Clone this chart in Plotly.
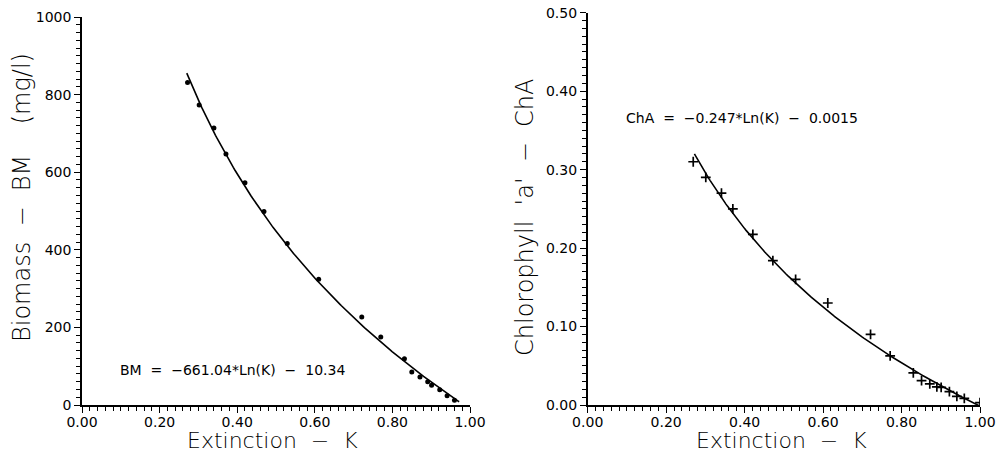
import numpy as np
import plotly.graph_objects as go

# ---- data ----
k_bm = [0.272, 0.302, 0.340, 0.371, 0.420, 0.469, 0.529, 0.610, 0.721, 0.770,
        0.831, 0.850, 0.871, 0.891, 0.901, 0.922, 0.941, 0.960]
bm = [831, 773, 714, 647, 573, 499, 416, 324, 227, 175,
      119, 85, 72, 60, 51, 39, 24, 12]

k_cha = [0.269, 0.301, 0.341, 0.370, 0.421, 0.472, 0.530, 0.612, 0.721, 0.771,
         0.830, 0.851, 0.872, 0.890, 0.901, 0.922, 0.941, 0.960, 1.000]
cha = [0.310, 0.290, 0.270, 0.250, 0.2175, 0.184, 0.160, 0.130, 0.090, 0.0625,
       0.041, 0.031, 0.027, 0.023, 0.0225, 0.017, 0.011, 0.0085, 0.003]

# fitted equations shown on the chart
bm_a, bm_b = -661.04, -10.34
bm_k_range = [0.27, 0.972]
cha_a, cha_b = -0.247, -0.0015
cha_k_range = [0.272, 1.0]

NB = "\u00a0"
bm_eq = "BM" + NB * 2 + "=" + NB * 2 + "\u2212661.04*Ln(K)" + NB * 2 + "\u2212" + NB * 2 + "10.34"
cha_eq = "ChA" + NB * 2 + "=" + NB * 2 + "\u22120.247*Ln(K)" + NB * 2 + "\u2212" + NB * 2 + "0.0015"
x_title = "Extinction" + NB * 2 + "\u2212" + NB * 2 + "K"
y1_title = "Biomass" + NB * 2 + "\u2212" + NB * 2 + "BM" + NB * 4 + "(mg/l)"
y2_title = "Chlorophyll" + NB * 2 + "'a'" + NB * 2 + "\u2212" + NB * 2 + "ChA"

kf1 = np.linspace(bm_k_range[0], bm_k_range[1], 200)
kf2 = np.linspace(cha_k_range[0], cha_k_range[1], 200)

TICKFONT = "DejaVu Sans, sans-serif"

fig = go.Figure()
fig.add_trace(go.Scatter(x=kf1, y=bm_a * np.log(kf1) + bm_b, mode="lines",
                         line=dict(color="black", width=1.6), xaxis="x", yaxis="y",
                         showlegend=False, hoverinfo="skip"))
fig.add_trace(go.Scatter(x=k_bm, y=bm, mode="markers",
                         marker=dict(symbol="circle", size=5, color="black"),
                         xaxis="x", yaxis="y", showlegend=False))
fig.add_trace(go.Scatter(x=kf2, y=cha_a * np.log(kf2) + cha_b, mode="lines",
                         line=dict(color="black", width=1.6), xaxis="x2", yaxis="y2",
                         showlegend=False, hoverinfo="skip"))
fig.add_trace(go.Scatter(x=k_cha, y=cha, mode="markers",
                         marker=dict(symbol="cross-thin", size=7, color="black",
                                     line=dict(color="black", width=1.7)),
                         xaxis="x2", yaxis="y2", showlegend=False))

W, H = 1003, 454
minor_x = dict(dtick=0.02, ticks="outside", ticklen=4, tickwidth=1.3, tickcolor="black")
axis_common = dict(showline=True, linecolor="black", linewidth=1.6, ticks="outside",
                   ticklen=6, tickwidth=1.4, tickcolor="black", showgrid=False,
                   zeroline=False, tickfont=dict(family=TICKFONT, size=14, color="black"),
                   mirror=False, automargin=False)

L1, R1 = 82, 470
L2, R2 = 587.7, 980
BOT = 405

fig.update_layout(
    width=W, height=H, margin=dict(l=0, r=0, t=0, b=0),
    plot_bgcolor="white", paper_bgcolor="white",
    xaxis=dict(domain=[L1 / W, R1 / W], anchor="y", range=[0, 1],
               tickvals=[0, 0.2, 0.4, 0.6, 0.8, 1.0], tickformat=".2f", minor=minor_x,
               ticklabelstandoff=-3, **axis_common),
    yaxis=dict(domain=[(H - BOT) / H, (H - 17) / H], anchor="x", range=[0, 1000],
               tickvals=[0, 200, 400, 600, 800, 1000],
               minor=dict(dtick=20, ticks="outside", ticklen=4, tickwidth=1.3, tickcolor="black"),
               **axis_common),
    xaxis2=dict(domain=[L2 / W, R2 / W], anchor="y2", range=[0, 1],
                tickvals=[0, 0.2, 0.4, 0.6, 0.8, 1.0], tickformat=".2f", minor=minor_x,
                ticklabelstandoff=-3, **axis_common),
    yaxis2=dict(domain=[(H - BOT) / H, (H - 12.7) / H], anchor="x2", range=[0, 0.5],
                tickvals=[0, 0.1, 0.2, 0.3, 0.4, 0.5], tickformat=".2f",
                minor=dict(dtick=0.01, ticks="outside", ticklen=4, tickwidth=1.3, tickcolor="black"),
                **axis_common),
)

tf = dict(family="DejaVu Sans, sans-serif", size=24, color="black", weight=200)
xtf = dict(family="DejaVu Sans, sans-serif", size=22, color="black", weight=200)
XT_Y = 440
ann = [
    dict(x=0.387, y=90, xref="x", yref="y", text=bm_eq, showarrow=False,
         font=dict(family=TICKFONT, size=14, color="black")),
    dict(x=0.393, y=0.366, xref="x2", yref="y2", text=cha_eq, showarrow=False,
         font=dict(family=TICKFONT, size=14, color="black")),
    # axis titles
    dict(x=(182 + 363) / 2 / W, y=(H - XT_Y) / H, xref="paper", yref="paper", text=x_title,
         showarrow=False, font=xtf, xanchor="center", yanchor="middle"),
    dict(x=(690 + 872) / 2 / W, y=(H - XT_Y) / H, xref="paper", yref="paper", text=x_title,
         showarrow=False, font=xtf, xanchor="center", yanchor="middle"),
    dict(x=22 / W, y=(H - 198) / H, xref="paper", yref="paper", text=y1_title, textangle=-90,
         showarrow=False, font=tf, xanchor="center", yanchor="middle"),
    dict(x=525 / W, y=(H - 217) / H, xref="paper", yref="paper", text=y2_title, textangle=-90,
         showarrow=False, font=tf, xanchor="center", yanchor="middle"),
]
fig.update_layout(annotations=ann)

fig.write_html("out.html", config={"displayModeBar": False},
               post_script="document.body.style.margin='0';document.body.style.overflow='hidden';")
